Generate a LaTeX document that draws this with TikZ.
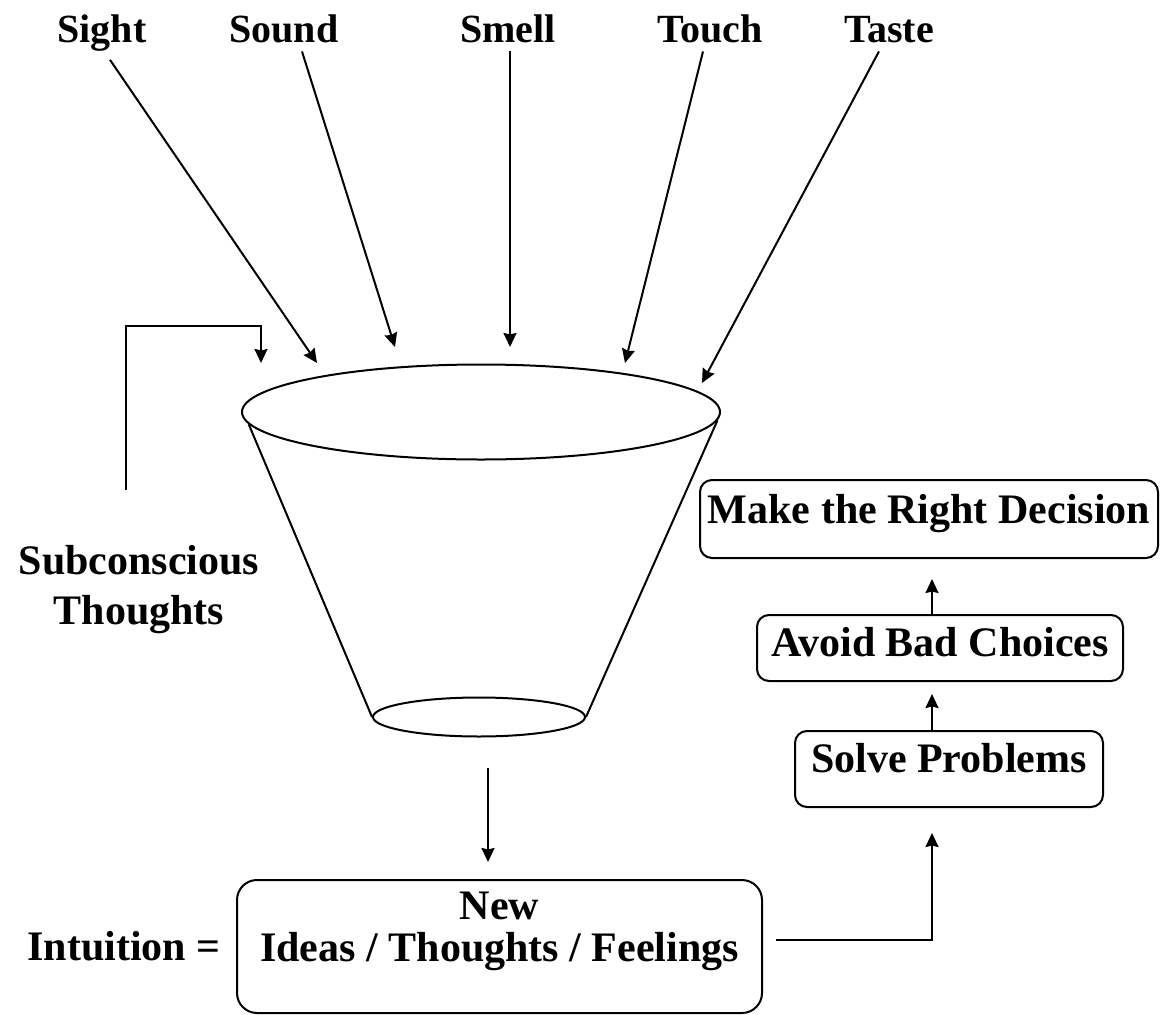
\documentclass[tikz,border=0pt]{standalone}
\usepackage{fontspec}
\setmainfont{Liberation Serif}
\usetikzlibrary{arrows.meta,positioning,shapes.geometric}

\begin{document}
\begin{tikzpicture}[x=1pt,y=-1pt,line width=2pt,
  >={Stealth[length=14pt,width=13pt,inset=1.5pt]},
  sense/.style={font=\fontsize{40}{44}\selectfont\bfseries,anchor=base,inner sep=2pt},
  word/.style={font=\fontsize{42}{50}\selectfont\bfseries,align=center},
  stepbox/.style={draw,rounded corners=12pt,inner xsep=0pt,inner ysep=0pt,
    font=\fontsize{42}{50}\selectfont\bfseries}]
  \useasboundingbox (0,0) rectangle (1160,1015);

  % senses on top
  \node[sense] (sight) at (102,42) {Sight};
  \node[sense] (sound) at (284,42) {Sound};
  \node[sense] (smell) at (508,42) {Smell};
  \node[sense] (touch) at (710,42) {Touch};
  \node[sense] (taste) at (889,42) {Taste};

  \coordinate (sightin) at (317,363);
  \coordinate (soundin) at (395,347);
  \coordinate (smellin) at (510,347);
  \coordinate (touchin) at (625,363);
  \coordinate (tastein) at (702,383);

  \draw[->] ([xshift=8pt,yshift=-6pt]sight.south) -- (sightin);
  \draw[->] ([xshift=18pt,yshift=-6pt]sound.south) -- (soundin);
  \draw[->] ([xshift=2pt,yshift=-6pt]smell.south) -- (smellin);
  \draw[->] ([xshift=-7pt,yshift=-6pt]touch.south) -- (touchin);
  \draw[->] ([xshift=-10pt,yshift=-6pt]taste.south) -- (tastein);

  % the funnel
  \node[draw,ellipse,minimum width=478pt,minimum height=95pt,inner sep=0pt] (rim) at (481,412) {};
  \node[draw,ellipse,minimum width=212pt,minimum height=39pt,inner sep=0pt] (base) at (479,717) {};
  \draw (rim.183) -- (base.west);
  \draw (rim.-2) -- (base.east);

  % subconscious loop
  \node[word] (subc) at (139,590) {Subconscious\\Thoughts};
  \coordinate (loopstart) at (126,490);
  \coordinate (loopcorner) at (261,326);
  \coordinate (loopin) at (261,363);
  \draw[->] (loopstart) |- (loopcorner) -- (loopin);

  % result
  \node[stepbox,rounded corners=20pt,minimum width=525pt,minimum height=133pt] (idea) at (499.5,946.5)
    {\parbox[c][109pt][t]{500pt}{\centering New\\[-8pt]Ideas / Thoughts / Feelings}};
  \node[word,left=11pt of idea] (intuition) {Intuition =};
  \coordinate (drop) at (488,768);
  \draw[->,shorten >=17pt] (drop) -- (drop |- idea.north);

  % steps on the right
  \node[stepbox,minimum width=458pt,text height=43pt,text depth=35pt] (decide) at (929,519) {Make the Right Decision};
  \node[stepbox,minimum width=366pt,text height=41pt,text depth=25pt] (avoid) at (940,648) {Avoid Bad Choices};
  \node[stepbox,minimum width=308pt,text height=41pt,text depth=35pt] (solve) at (949,769) {Solve Problems};

  \coordinate (spine) at (932,0);
  \draw[->,shorten >=25pt] ([xshift=13pt,yshift=6.5pt]idea.east) -| (spine |- solve.south);
  \draw[->,shorten >=12pt] (spine |- solve.north) -- (spine |- avoid.south);
  \draw[->,shorten >=20pt] (spine |- avoid.north) -- (spine |- decide.south);
\end{tikzpicture}
\end{document}
